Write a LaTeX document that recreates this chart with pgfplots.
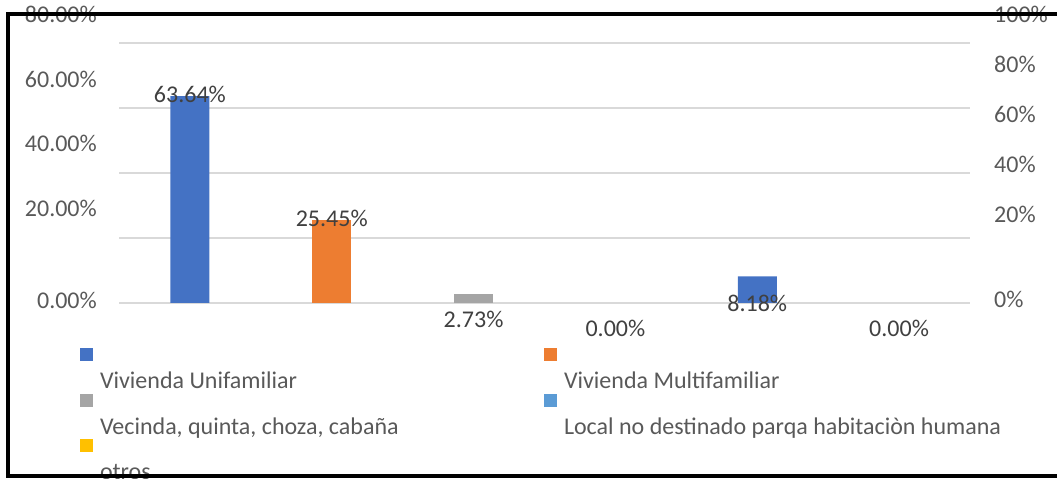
\documentclass[border=0pt]{standalone}
\usepackage{pgfplots}
\pgfplotsset{compat=1.18}
\usepackage{fontspec}
\setmainfont{Carlito}
\definecolor{tgray}{HTML}{595959}
\definecolor{lgray}{HTML}{404040}
\definecolor{ggray}{HTML}{D9D9D9}
\definecolor{c1}{HTML}{4472C4}
\definecolor{c2}{HTML}{ED7D31}
\definecolor{c3}{HTML}{A5A5A5}
\definecolor{c4}{HTML}{5B9BD5}
\definecolor{c5}{HTML}{FFC000}
\newcommand\cfont{\fontsize{24bp}{28bp}\selectfont}
\begin{document}
\begin{tikzpicture}
\useasboundingbox (0,0) rectangle (1057bp,479bp);
\begin{axis}[
 at={(119bp,176bp)}, anchor=south west,
 scale only axis, width=851bp, height=290bp,
 xmin=-0.5, xmax=5.5, ymin=0, ymax=89.23,
 xtick=\empty,
 ytick={0.92,29.0,49.0,68.92,88.92},
 yticklabels={0.00\%,20.00\%,40.00\%,60.00\%,80.00\%},
 yticklabel style={font=\cfont, text=tgray, inner sep=0pt, anchor=east, xshift=-22bp},
 major tick length=0pt,
 extra y ticks={0,20,40,60,80},
 extra y tick labels={},
 extra y tick style={grid=major, major grid style={draw=ggray, line width=1.6bp}},
 axis line style={draw=none},
 clip=false,
 legend columns=2, legend cell align=left,
 legend style={at={(axis description cs:-0.0458,-0.1552)}, anchor=north west,
   draw=none, fill=none, inner sep=0pt, outer sep=0pt, column sep=7bp, row sep=0pt,
   font=\cfont, text=tgray, nodes={inner sep=0pt, text height=17bp, text depth=5bp}},
 legend image code/.code={\fill[#1,draw=none,fill opacity=1] (0bp,21.5bp) rectangle (13bp,34.5bp);},
]
\addplot[ybar, bar width=39bp, bar shift=0pt, fill=c1, draw=none] coordinates {(0,63.64) (4,8.18)};
\addlegendentry{\makebox[437bp][l]{Vivienda Unifamiliar}}
\addplot[ybar, bar width=39bp, bar shift=0pt, fill=c2, draw=none] coordinates {(1,25.45)};
\addlegendentry{Vivienda Multifamiliar}
\addplot[ybar, bar width=39bp, bar shift=0pt, fill=c3, draw=none] coordinates {(2,2.73)};
\addlegendentry{\makebox[437bp][l]{Vecinda, quinta, choza, cabaña}}
\addplot[ybar, bar width=39bp, bar shift=0pt, fill=c4, draw=none, fill opacity=0] coordinates {(3,0)};
\addlegendentry{Local no destinado parqa habitaciòn humana}
\addplot[ybar, bar width=39bp, bar shift=0pt, fill=c5, draw=none, fill opacity=0] coordinates {(5,0)};
\addlegendentry{\makebox[437bp][l]{otros}}
\addplot[draw=none, mark=none, forget plot, nodes near coords, point meta=explicit symbolic,
  every node near coord/.append style={font=\cfont, text=lgray, anchor=center, inner sep=0pt}]
  coordinates {(0,64.3)[63.64\%] (1,26.0)[25.45\%] (2,-5.2)[2.73\%] (3,-7.7)[0.00\%] (4,0)[8.18\%] (5,-7.7)[0.00\%]};
\end{axis}
\begin{axis}[
 at={(119bp,176bp)}, anchor=south west,
 scale only axis, width=851bp, height=290bp,
 xmin=-0.5, xmax=5.5, ymin=0, ymax=89.23,
 axis y line*=right, axis x line=none, axis line style={draw=none},
 xtick=\empty,
 ytick={1.08,27.2,42.6,57.9,73.3,88.7},
 yticklabels={0\%,20\%,40\%,60\%,80\%,100\%},
 yticklabel style={font=\cfont, text=tgray, inner sep=0pt, anchor=west, xshift=24bp},
 major tick length=0pt,
]
\end{axis}
\draw[line width=3.5bp] (1070bp,465.2bp) -- (8bp,465.2bp) -- (8bp,3bp) -- (1070bp,3bp);
\end{tikzpicture}
\end{document}
